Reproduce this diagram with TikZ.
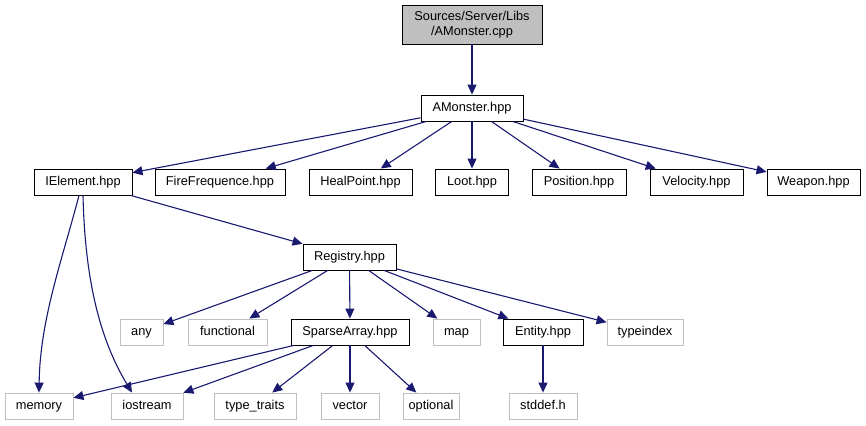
\documentclass[tikz,border=0pt]{standalone}
\usepackage{fontspec}
\setmainfont{Liberation Sans}
\usetikzlibrary{arrows.meta}
\definecolor{edgeblue}{HTML}{191970}
\definecolor{boxgray}{HTML}{BFBFBF}
\tikzset{
  hdr/.style={draw=black, line width=0.9pt, minimum height=26pt, inner sep=0pt,
    text height=9.4pt, text depth=2.8pt, font=\fontsize{12.8}{14.5}\selectfont},
  sys/.style={hdr, draw=boxgray},
  root/.style={draw=black, line width=0.9pt, fill=boxgray, inner sep=0pt, align=center,
    minimum height=39pt, font=\fontsize{12.8}{14.5}\selectfont},
  dep/.style={draw=edgeblue, line width=1.1pt, -{Triangle[length=10pt,width=9pt]}}
}
\begin{document}
\begin{tikzpicture}[x=1pt, y=-1pt]
  \useasboundingbox (0,0) rectangle (866,425);
  % file and its own header
  \node[root, minimum width=140pt] (src) at (472,24.5) {Sources/Server/Libs\\/AMonster.cpp};
  \node[hdr, minimum width=102pt] (amon) at (472,108) {AMonster.hpp};
  % project headers
  \node[hdr, minimum width=98pt] (iel) at (83,182) {IElement.hpp};
  \node[hdr, minimum width=130pt] (fire) at (220,182) {FireFrequence.hpp};
  \node[hdr, minimum width=103pt] (heal) at (360.5,182) {HealPoint.hpp};
  \node[hdr, minimum width=73pt] (loot) at (472,182) {Loot.hpp};
  \node[hdr, minimum width=94pt] (pos) at (579,182) {Position.hpp};
  \node[hdr, minimum width=93pt] (vel) at (696.5,182) {Velocity.hpp};
  \node[hdr, minimum width=93pt] (weap) at (813.5,182) {Weapon.hpp};
  \node[hdr, minimum width=93pt] (reg) at (349.5,257) {Registry.hpp};
  \node[hdr, minimum width=118pt] (spa) at (350,332) {SparseArray.hpp};
  \node[hdr, minimum width=80pt] (ent) at (543,332) {Entity.hpp};
  % system headers
  \node[sys, minimum width=43pt] (any) at (141.5,332) {any};
  \node[sys, minimum width=79pt] (func) at (227.5,332) {functional};
  \node[sys, minimum width=47pt] (map) at (456.5,332) {map};
  \node[sys, minimum width=76pt] (tidx) at (645,332) {typeindex};
  \node[sys, minimum width=68pt] (mem) at (39,406) {memory};
  \node[sys, minimum width=72pt] (ios) at (147,406) {iostream};
  \node[sys, minimum width=82pt] (tt) at (255,406) {type\_traits};
  \node[sys, minimum width=58pt] (vec) at (350,406) {vector};
  \node[sys, minimum width=56pt] (opt) at (431,406) {optional};
  \node[sys, minimum width=68pt] (stdd) at (543,406) {stddef.h};
  % includes
  \draw[dep] (src) -- (amon);
  \foreach \t in {iel,fire,heal,loot,pos,vel,weap}
    \draw[dep] (amon) -- (\t);
  \draw[dep] (iel) -- (reg);
  \draw[dep] ([xshift=-4pt]iel.south) .. controls +(-17,65) and +(1,-73) .. (mem.north);
  \draw[dep] (iel.south) .. controls +(2,85) and +(-32,-53) .. ([xshift=-15pt]ios.north);
  \foreach \t in {any,func,spa,map,ent,tidx}
    \draw[dep] (reg) -- (\t);
  \foreach \t in {mem,ios,tt,vec,opt}
    \draw[dep] (spa) -- (\t);
  \draw[dep] (ent) -- (stdd);
\end{tikzpicture}
\end{document}
